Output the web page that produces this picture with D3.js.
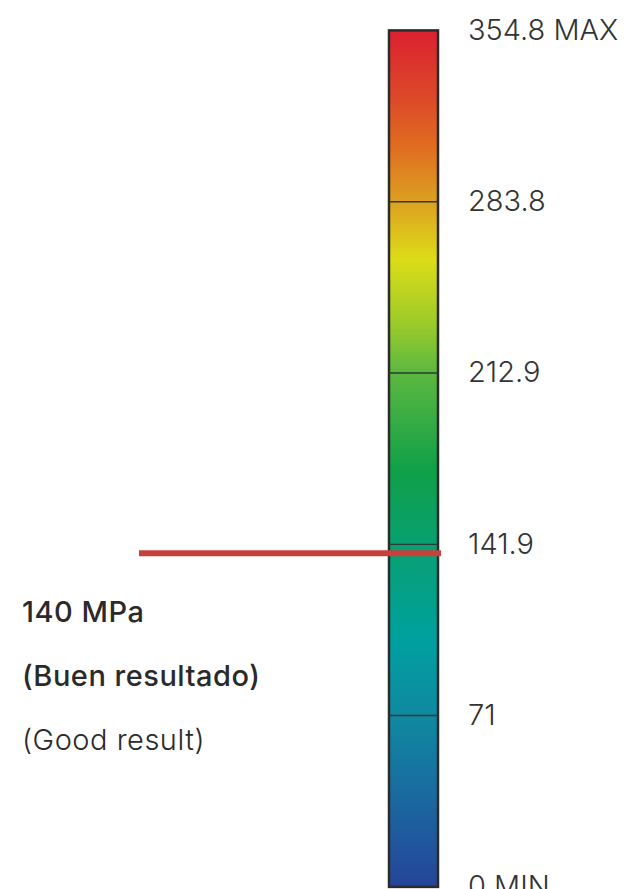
<!DOCTYPE html>
<html>
<head>
<meta charset="utf-8">
<script src="https://cdn.jsdelivr.net/npm/d3@7"></script>
<style>
  html, body { margin: 0; padding: 0; background: #fff; }
  svg { display: block; }
</style>
</head>
<body>
<svg id="chart" width="630" height="889"></svg>
<script>
// escala de tensiones (MPa)
const tickValues = [0, 71, 141.9, 212.9, 283.8, 354.8];
const tickLabels = ['0 MIN', '71', '141.9', '212.9', '283.8', '354.8 MAX'];

const stopValues = [354, 326, 305, 284, 260, 235, 213, 173, 142, 102, 69, 36, 0];
const stopColors = ['#dc2230', '#dc4a28', '#e07020', '#dca020', '#dcdc18', '#a0cc28',
  '#5cb840', '#10a048', '#08a070', '#00a0a0', '#1088a0', '#1a68a0', '#26449a'];

// marcador del resultado
const markerValue = 138.2;
const markerLines = ['140 MPa', '(Buen resultado)', '(Good result)'];

const W = 630, H = 889;
const bar = { x: 389, w: 49 };

const svg = d3.select('#chart');

const y = d3.scaleLinear()
  .domain([0, 354.8])
  .range([886.9, 30.4]);

// gradiente
const grad = svg.append('defs').append('linearGradient')
  .attr('id', 'stress')
  .attr('gradientUnits', 'userSpaceOnUse')
  .attr('x1', 0).attr('x2', 0)
  .attr('y1', y(0)).attr('y2', y(354.8));

grad.selectAll('stop')
  .data(stopValues.map((v, i) => ({ v, c: stopColors[i] })).sort((a, b) => a.v - b.v))
  .join('stop')
  .attr('offset', d => d.v / 354.8)
  .attr('stop-color', d => d.c);

svg.append('rect')
  .attr('x', bar.x)
  .attr('y', y(354.8))
  .attr('width', bar.w)
  .attr('height', y(0) - y(354.8))
  .attr('fill', 'url(#stress)')
  .attr('stroke', '#2b2b2b')
  .attr('stroke-width', 2.5);

// líneas internas de las marcas
svg.append('g')
  .selectAll('line')
  .data(tickValues.slice(1, -1))
  .join('line')
  .attr('x1', bar.x)
  .attr('x2', bar.x + bar.w)
  .attr('y1', d => y(d))
  .attr('y2', d => y(d))
  .attr('stroke', '#2b3a33')
  .attr('stroke-width', 1.4);

// etiquetas a la derecha
const axis = d3.axisRight(y)
  .tickValues(tickValues)
  .tickFormat((d, i) => tickLabels[i])
  .tickSize(0)
  .tickPadding(30);

const ax = svg.append('g')
  .attr('transform', `translate(${bar.x + bar.w},0)`)
  .call(axis);

ax.select('.domain').remove();
ax.selectAll('text')
  .attr('dy', '0.3em')
  .attr('fill', '#333')
  .style('font-family', 'Inter, Roboto, sans-serif')
  .style('font-weight', 300)
  .style('font-size', '29px');

// línea roja del resultado
svg.append('line')
  .attr('x1', 139)
  .attr('x2', bar.x + bar.w + 3)
  .attr('y1', y(markerValue))
  .attr('y2', y(markerValue))
  .attr('stroke', '#c8403c')
  .attr('stroke-width', 6);

// texto del resultado
const note = svg.append('g')
  .style('font-family', 'Inter, Roboto, sans-serif')
  .attr('fill', '#2a2a2a');

note.selectAll('text')
  .data(markerLines)
  .join('text')
  .attr('x', 22)
  .attr('y', (d, i) => 622 + i * 64)
  .style('font-size', '29px')
  .style('letter-spacing', '0.5px')
  .style('font-weight', (d, i) => i < 2 ? 500 : 300)
  .text(d => d);
</script>
</body>
</html>
